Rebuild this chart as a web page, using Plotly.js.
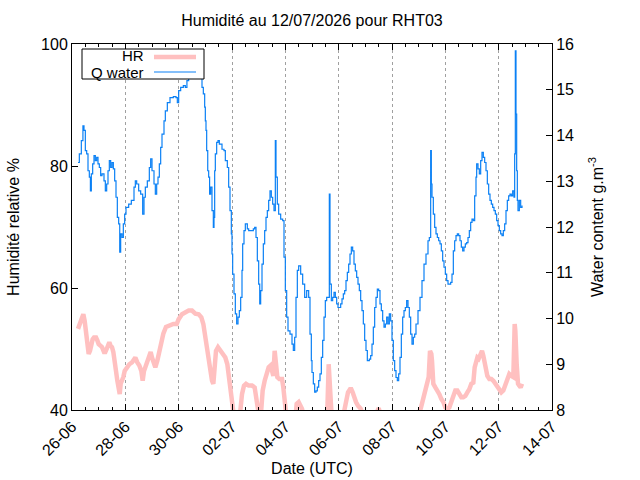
<!DOCTYPE html>
<html>
<head>
<meta charset="utf-8">
<script src="https://cdn.plot.ly/plotly-3.0.1.min.js"></script>
<style>body{margin:0;background:#fff}</style>
</head>
<body>
<div id="myDiv" style="width:640px;height:480px"></div>
<script>
// time in days since 26-06-2026 00:00 UTC
var dayQ = [0.225,0.275,0.35,0.41,0.45,0.5,0.55,0.6,0.65,0.69,0.725,0.775,0.825,0.875,0.925,0.975,1.025,1.075,1.125,1.2,1.25,1.3,1.35,1.4,1.45,1.5,1.55,1.6,1.65,1.7,1.75,1.79,1.825,1.875,1.925,1.975,2.025,2.125,2.225,2.325,2.375,2.425,2.5,2.575,2.65,2.7,2.75,2.825,2.9,2.95,3.0,3.075,3.125,3.175,3.225,3.275,3.325,3.375,3.45,3.5,3.575,3.675,3.8,3.9,3.95,4.0,4.075,4.175,4.25,4.31,4.375,4.45,4.55,4.7,4.8,4.85,4.875,4.925,4.975,5.0,5.025,5.05,5.09,5.125,5.16,5.2,5.25,5.3,5.325,5.35,5.375,5.425,5.475,5.525,5.575,5.625,5.7,5.75,5.825,5.875,5.925,5.975,6.0,6.025,6.075,6.125,6.175,6.225,6.275,6.325,6.375,6.4,6.45,6.5,6.575,6.625,6.725,6.8,6.85,6.9,6.95,7.0,7.04,7.075,7.125,7.175,7.225,7.275,7.325,7.375,7.425,7.475,7.525,7.575,7.625,7.65,7.7,7.75,7.825,7.9,7.95,8.0,8.05,8.1,8.175,8.25,8.3,8.35,8.4,8.45,8.5,8.575,8.65,8.725,8.8,8.875,8.925,8.975,9.0,9.05,9.1,9.15,9.2,9.25,9.3,9.35,9.4,9.45,9.5,9.55,9.6,9.65,9.675,9.725,9.775,9.825,9.875,9.925,9.975,10.025,10.075,10.125,10.175,10.225,10.275,10.325,10.375,10.425,10.475,10.525,10.575,10.625,10.675,10.725,10.775,10.825,10.875,10.925,10.975,11.025,11.075,11.15,11.2,11.25,11.3,11.35,11.4,11.45,11.5,11.55,11.6,11.65,11.7,11.75,11.8,11.85,11.9,11.95,12.0,12.05,12.1,12.15,12.2,12.25,12.3,12.35,12.4,12.45,12.5,12.55,12.6,12.65,12.7,12.75,12.8,12.85,12.9,12.975,13.05,13.125,13.2,13.275,13.35,13.4,13.45,13.475,13.5,13.55,13.6,13.65,13.7,13.75,13.8,13.85,13.9,13.95,14.0,14.05,14.1,14.15,14.2,14.25,14.3,14.35,14.4,14.45,14.5,14.55,14.6,14.65,14.7,14.75,14.8,14.85,14.9,14.95,15.0,15.05,15.1,15.15,15.175,15.225,15.275,15.325,15.375,15.425,15.475,15.525,15.575,15.625,15.675,15.725,15.775,15.825,15.875,15.925,15.975,16.025,16.075,16.125,16.175,16.225,16.275,16.325,16.375,16.425,16.475,16.525,16.575,16.6,16.625,16.65,16.675,16.7,16.725,16.775,16.825,16.875];
var qWater = [13.41,13.6,13.89,14.21,14.11,13.67,13.6,13.23,13.09,12.79,13.16,13.38,13.56,13.45,13.52,13.38,13.3,13.12,13.16,13.01,12.79,12.94,13.23,13.45,13.3,13.41,13.27,13.01,12.65,12.21,12.07,11.45,11.85,11.77,12.07,12.28,12.43,12.5,12.58,12.87,13.01,12.94,12.79,12.72,12.28,12.65,12.87,13.01,13.3,13.49,13.23,12.94,12.72,12.94,13.09,13.38,13.74,14.03,14.32,14.54,14.72,14.83,14.85,14.83,14.72,14.98,15.05,15.09,15.05,15.2,15.27,15.38,15.45,15.55,15.4,15.27,15.05,14.91,14.62,14.32,14.11,13.67,13.23,13.09,12.72,12.87,12.36,11.99,12.21,13.23,13.6,13.85,13.89,13.81,13.81,13.7,13.67,13.45,13.3,12.87,12.36,11.85,11.41,10.97,10.54,10.1,9.88,10.03,10.17,10.46,11.05,11.63,11.92,12.07,11.96,11.92,11.92,11.96,11.99,11.77,11.26,10.75,10.32,10.61,11.19,11.63,11.92,12.21,12.36,12.58,12.79,12.65,12.5,12.36,13.89,13.09,12.5,12.28,12.17,12.14,11.34,10.61,10.03,9.73,9.66,9.44,9.3,9.59,10.46,11.05,11.15,10.97,10.75,10.46,10.61,10.46,9.66,9.08,8.82,8.57,8.39,8.42,8.5,8.64,8.79,9.15,9.52,10.03,10.39,10.46,10.46,12.72,10.75,10.39,10.46,10.57,10.46,10.32,10.24,10.24,10.32,10.43,10.54,10.61,10.83,11.01,11.19,11.41,11.56,11.48,11.19,11.04,10.9,10.75,10.61,10.39,10.17,9.88,9.52,9.3,9.08,9.11,9.19,9.44,9.81,10.24,10.46,10.64,10.61,10.32,10.17,9.95,9.81,9.88,10.03,9.88,10.1,9.95,9.52,9.08,8.86,8.71,8.64,8.79,9.15,9.66,10.03,10.17,10.24,10.39,10.24,10.03,9.66,9.44,9.59,9.66,9.88,10.17,10.46,10.83,11.19,11.41,11.7,11.77,13.67,12.94,12.65,12.28,11.99,11.85,11.77,11.7,11.63,11.48,11.26,11.12,10.97,10.83,10.75,10.75,10.79,10.97,11.48,11.7,11.81,11.85,11.81,11.7,11.56,11.48,11.56,11.63,11.66,11.77,11.92,12.1,12.17,12.14,12.68,13.09,13.38,13.27,13.16,13.45,13.63,13.52,13.41,13.23,12.94,12.72,12.58,12.5,12.43,12.36,12.28,12.14,12.03,11.92,11.85,11.81,11.92,12.07,12.36,12.58,12.68,12.72,12.68,12.79,12.65,13.6,15.85,14.47,13.23,12.58,12.36,12.58,12.43,12.47];

var dayHR = [0.225,0.3,0.375,0.425,0.475,0.525,0.575,0.625,0.675,0.725,0.775,0.825,0.9,0.95,1.0,1.075,1.125,1.2,1.25,1.3,1.35,1.4,1.45,1.5,1.55,1.6,1.65,1.7,1.75,1.79,1.825,1.875,1.925,1.975,2.05,2.15,2.25,2.325,2.375,2.45,2.525,2.6,2.65,2.7,2.775,2.875,2.95,3.0,3.075,3.125,3.2,3.275,3.35,3.425,3.525,3.65,3.8,3.925,4.0,4.125,4.25,4.375,4.5,4.625,4.75,4.85,4.925,5.0,5.05,5.1,5.15,5.2,5.25,5.3,5.35,5.4,5.475,5.575,5.675,5.75,5.825,5.875,5.925,5.975,6.025,6.1,6.2,6.28,6.325,6.375,6.45,6.525,6.625,6.75,6.85,6.9,6.95,7.02,7.08,7.1,7.15,7.225,7.3,7.375,7.45,7.5,7.55,7.6,7.65,7.7,7.775,7.875,7.925,7.975,8.05,8.15,8.3,8.38,8.425,8.5,8.575,8.625,8.7,8.9,9.1,9.3,9.5,9.575,9.625,9.7,9.725,9.85,10.0,10.15,10.225,10.275,10.35,10.425,10.475,10.525,10.575,10.65,10.725,10.825,10.95,11.15,11.3,11.45,11.5,11.55,11.8,12.1,12.3,12.6,12.8,12.95,13.075,13.15,13.225,13.3,13.375,13.425,13.475,13.5,13.55,13.625,13.7,13.775,13.85,13.925,14.0,14.075,14.15,14.225,14.3,14.375,14.45,14.525,14.6,14.675,14.75,14.825,14.9,14.975,15.05,15.1,15.15,15.2,15.25,15.325,15.375,15.425,15.475,15.525,15.575,15.65,15.725,15.8,15.875,15.95,16.025,16.1,16.175,16.25,16.325,16.4,16.475,16.55,16.6,16.625,16.675,16.725,16.775,16.825,16.875];
var hrVals = [53.3,54.1,55.2,55.7,54.6,52.5,50.8,49.2,49.7,51.1,51.6,51.9,51.9,51.4,50.8,50.5,50.3,49.5,49.5,50.0,50.8,51.1,50.5,50.3,49.5,48.4,46.4,44.8,43.7,42.6,44.3,44.8,45.4,46.4,47.0,47.5,47.8,48.4,48.6,47.8,47.3,46.4,44.8,46.4,47.5,48.6,49.5,48.6,47.5,47.0,48.1,49.7,51.4,52.5,53.6,53.8,54.1,54.1,54.9,55.7,56.0,56.3,56.3,55.8,55.7,55.2,54.1,51.9,49.7,48.1,47.0,45.9,44.8,44.3,47.5,49.7,50.3,49.7,49.2,48.6,47.5,45.9,43.7,41.5,40.2,38.0,37.2,38.5,40.4,42.6,44.0,44.3,44.0,44.0,43.7,42.1,40.4,38.8,39.0,41.0,43.2,44.8,46.2,47.0,47.3,46.4,45.6,49.7,46.4,45.4,45.1,45.1,43.7,41.0,38.5,37.5,37.0,38.8,41.0,41.3,40.7,40.2,38.8,37.0,36.2,37.0,38.5,39.9,47.5,43.2,39.9,38.5,37.8,38.6,40.4,41.8,42.9,43.4,43.4,42.9,42.1,41.3,40.7,40.2,38.8,37.8,38.4,39.6,40.3,39.6,38.0,36.5,37.2,38.0,37.8,39.0,40.2,41.5,42.9,43.7,45.4,49.7,49.2,48.1,44.3,43.7,43.2,42.6,41.8,41.3,40.4,40.2,40.4,41.3,42.6,43.2,43.2,42.6,42.1,42.1,42.3,42.9,43.4,44.3,44.5,47.0,48.1,48.6,48.4,49.5,49.7,48.9,47.8,46.7,45.6,45.1,45.1,44.8,44.3,44.0,43.4,42.9,43.2,44.3,45.4,45.9,45.6,45.4,54.1,53.0,47.5,44.3,44.0,43.7,44.3];

var t0 = Date.UTC(2026, 5, 26);
function toDate(d) {
  return new Date(t0 + d * 86400000).toISOString().slice(0, 19).replace('T', ' ');
}

var font = {family: 'Liberation Sans, Arial, sans-serif', size: 16, color: '#000'};
var keyFont = {family: 'Liberation Sans, Arial, sans-serif', size: 15, color: '#000'};

var hr = {
  x: dayHR.map(toDate), y: hrVals,
  name: 'HR', mode: 'lines', type: 'scatter',
  line: {color: '#ffc0c0', width: 4.5},
  yaxis: 'y'
};
var qw = {
  x: dayQ.map(toDate), y: qWater,
  name: 'Q water', mode: 'lines', type: 'scatter',
  line: {color: '#0a80f5', width: 1.2, shape: 'hv'},
  yaxis: 'y2'
};

// gnuplot style key: text first, then line sample
function px(v) { return (v - 72) / 480; }
function py(v) { return (410 - v) / 366; }

var layout = {
  width: 640, height: 480,
  margin: {l: 72, r: 88, t: 44, b: 70},
  paper_bgcolor: '#fff', plot_bgcolor: '#fff',
  font: font,
  showlegend: false,
  title: {text: 'Humidité au 12/07/2026 pour RHT03', x: 0.5, xref: 'paper', y: 1 - 20 / 480, yanchor: 'middle', font: font},
  xaxis: {
    type: 'date',
    range: ['2026-06-26', '2026-07-14'],
    tick0: '2026-06-26', dtick: 2 * 86400000,
    tickformat: '%d-%m', tickangle: -45,
    ticks: 'inside', ticklen: 6, tickcolor: '#000',
    showline: true, linecolor: '#000', linewidth: 1, mirror: 'ticks',
    showgrid: true, gridcolor: '#a0a0a0', griddash: 'dot', gridwidth: 1,
    zeroline: false,
    minor: {dtick: 12 * 3600000, ticks: 'inside', ticklen: 3, tickcolor: '#000', showgrid: false},
    title: {text: 'Date (UTC)', font: font, standoff: 4},
    automargin: false
  },
  yaxis: {
    range: [40, 100], dtick: 20,
    ticks: 'inside', ticklen: 6, tickcolor: '#000',
    showline: true, linecolor: '#000', linewidth: 1,
    showgrid: false, zeroline: false,
    title: {text: 'Humidité relative %', font: font, standoff: 17},
    automargin: false
  },
  yaxis2: {
    overlaying: 'y', side: 'right',
    range: [8, 16], dtick: 1,
    ticks: 'inside', ticklen: 6, tickcolor: '#000',
    showline: true, linecolor: '#000', linewidth: 1,
    showgrid: false, zeroline: false,
    title: {text: 'Water content g.m<sup>-3</sup>', font: font, standoff: 18},
    automargin: false
  },
  shapes: [
    {type: 'rect', xref: 'paper', yref: 'paper', x0: px(82), x1: px(204), y0: py(79), y1: py(49),
     line: {color: '#000', width: 1}, fillcolor: '#fff', layer: 'above'},
    {type: 'line', xref: 'paper', yref: 'paper', x0: px(154), x1: px(196), y0: py(57), y1: py(57),
     line: {color: '#ffc0c0', width: 4.5}, layer: 'above'},
    {type: 'line', xref: 'paper', yref: 'paper', x0: px(154), x1: px(196), y0: py(72), y1: py(72),
     line: {color: '#0a80f5', width: 1.2}, layer: 'above'}
  ],
  annotations: [
    {text: 'HR', xref: 'paper', yref: 'paper', x: px(145), y: py(55), xanchor: 'right', yanchor: 'middle', showarrow: false, borderpad: 0, font: keyFont},
    {text: 'Q water', xref: 'paper', yref: 'paper', x: px(145), y: py(72.5), xanchor: 'right', yanchor: 'middle', showarrow: false, borderpad: 0, font: keyFont}
  ]
};

Plotly.newPlot('myDiv', [hr, qw], layout, {staticPlot: true});
</script>
</body>
</html>
